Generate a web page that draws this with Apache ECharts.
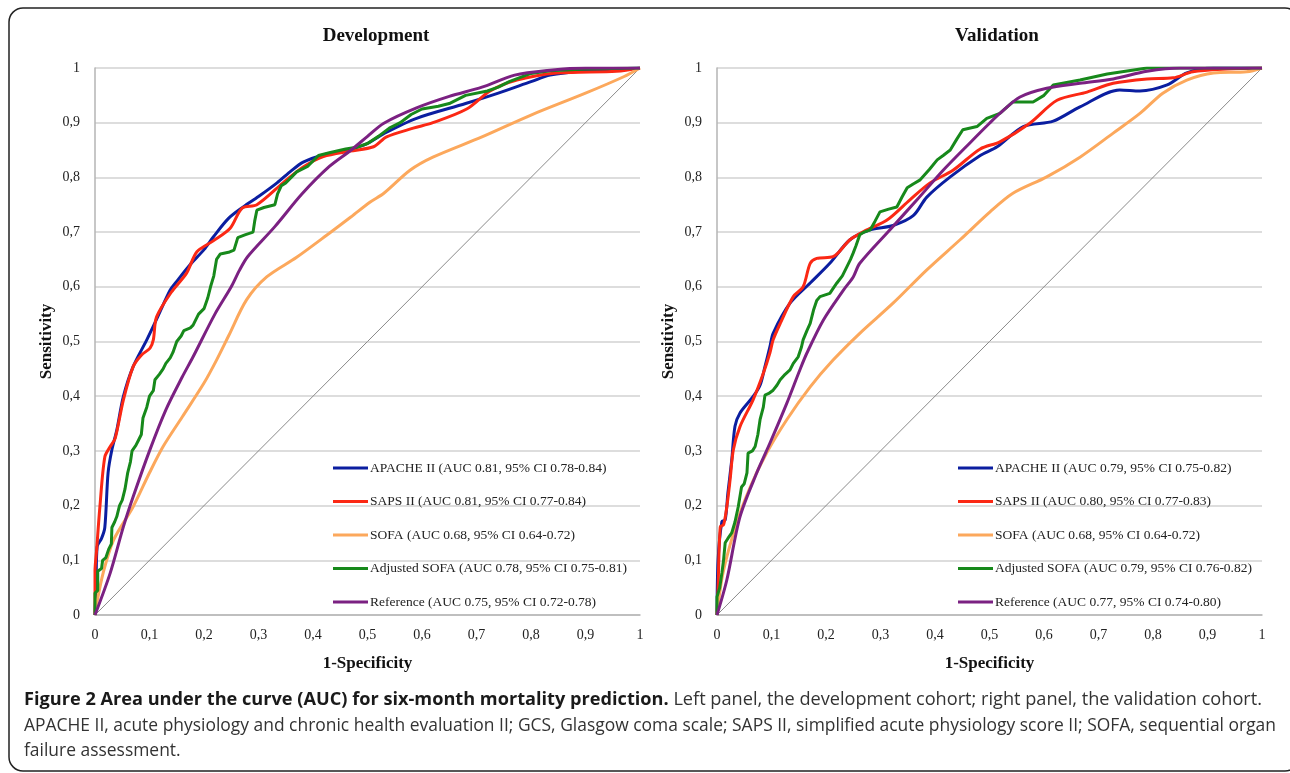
<!DOCTYPE html>
<html><head><meta charset="utf-8">
<script src="https://cdn.jsdelivr.net/npm/echarts@6/dist/echarts.min.js"></script>
<style>html,body{margin:0;padding:0;background:#fff}#c{width:1290px;height:773px}</style>
</head><body><div id="c"></div>
<script>
// ---------- data (x = 1-Specificity, y = Sensitivity) ----------
const tickLabels = ['0','0,1','0,2','0,3','0,4','0,5','0,6','0,7','0,8','0,9','1'];
const panelTitles = ['Development','Validation'];
const devNames = ['APACHE II (AUC 0.81, 95% CI 0.78-0.84)','SAPS II (AUC 0.81, 95% CI 0.77-0.84)','SOFA (AUC 0.68, 95% CI 0.64-0.72)','Adjusted SOFA (AUC 0.78, 95% CI 0.75-0.81)','Reference (AUC 0.75, 95% CI 0.72-0.78)'];
const valNames = ['APACHE II (AUC 0.79, 95% CI 0.75-0.82)','SAPS II (AUC 0.80, 95% CI 0.77-0.83)','SOFA (AUC 0.68, 95% CI 0.64-0.72)','Adjusted SOFA (AUC 0.79, 95% CI 0.76-0.82)','Reference (AUC 0.77, 95% CI 0.74-0.80)'];
const diagonal = [[0,0],[1,1]];

const devApache = [[0,0],[0.002,0.06],[0.004,0.125],[0.012,0.14],[0.018,0.16],[0.024,0.26],[0.031,0.302],[0.04,0.338],[0.052,0.399],[0.07,0.454],[0.095,0.503],[0.115,0.545],[0.138,0.594],[0.15,0.61],[0.174,0.64],[0.2,0.668],[0.217,0.691],[0.245,0.725],[0.272,0.746],[0.3,0.765],[0.334,0.79],[0.36,0.812],[0.382,0.828],[0.419,0.841],[0.47,0.852],[0.5,0.862],[0.53,0.88],[0.59,0.908],[0.68,0.935],[0.74,0.954],[0.8,0.975],[0.835,0.987],[0.9,0.995],[0.96,0.998],[1,1]];
const devSaps = [[0,0],[0,0.08],[0.003,0.119],[0.009,0.198],[0.018,0.289],[0.028,0.308],[0.037,0.323],[0.052,0.393],[0.07,0.454],[0.085,0.475],[0.101,0.488],[0.107,0.503],[0.113,0.545],[0.14,0.59],[0.168,0.625],[0.187,0.664],[0.217,0.684],[0.248,0.707],[0.27,0.744],[0.297,0.75],[0.345,0.79],[0.382,0.819],[0.419,0.838],[0.468,0.848],[0.511,0.856],[0.535,0.874],[0.584,0.89],[0.62,0.9],[0.682,0.925],[0.725,0.958],[0.774,0.978],[0.847,0.991],[0.957,0.994],[1,1]];
const devSofa = [[0,0],[0.003,0.02],[0.015,0.077],[0.034,0.137],[0.07,0.198],[0.1,0.26],[0.125,0.308],[0.16,0.362],[0.2,0.424],[0.223,0.466],[0.245,0.51],[0.278,0.576],[0.315,0.618],[0.37,0.654],[0.43,0.698],[0.47,0.728],[0.505,0.755],[0.53,0.771],[0.578,0.813],[0.62,0.837],[0.71,0.874],[0.8,0.914],[0.9,0.954],[0.97,0.984],[1,1]];
const devAdjSofa = [[0,0],[0,0.04],[0.005,0.045],[0.005,0.08],[0.012,0.085],[0.014,0.1],[0.02,0.105],[0.025,0.12],[0.03,0.13],[0.031,0.16],[0.036,0.17],[0.04,0.18],[0.045,0.2],[0.05,0.21],[0.055,0.23],[0.06,0.26],[0.065,0.28],[0.068,0.3],[0.075,0.31],[0.08,0.32],[0.085,0.33],[0.088,0.36],[0.095,0.38],[0.1,0.4],[0.107,0.41],[0.11,0.43],[0.118,0.44],[0.125,0.45],[0.13,0.46],[0.138,0.47],[0.143,0.48],[0.15,0.5],[0.158,0.51],[0.163,0.52],[0.175,0.525],[0.18,0.53],[0.19,0.55],[0.2,0.56],[0.207,0.58],[0.212,0.6],[0.218,0.62],[0.223,0.65],[0.23,0.66],[0.245,0.663],[0.255,0.667],[0.262,0.69],[0.275,0.695],[0.29,0.7],[0.293,0.72],[0.297,0.74],[0.31,0.745],[0.33,0.75],[0.335,0.77],[0.342,0.785],[0.35,0.79],[0.36,0.8],[0.37,0.81],[0.39,0.82],[0.4,0.83],[0.41,0.84],[0.43,0.845],[0.46,0.852],[0.48,0.855],[0.5,0.862],[0.52,0.875],[0.54,0.89],[0.56,0.9],[0.58,0.915],[0.6,0.925],[0.63,0.93],[0.65,0.935],[0.68,0.95],[0.72,0.958],[0.74,0.965],[0.76,0.975],[0.8,0.99],[0.835,0.995],[0.9,0.998],[1,1]];
const devReference = [[0,0],[0.028,0.077],[0.052,0.161],[0.07,0.216],[0.1,0.3],[0.13,0.375],[0.16,0.435],[0.18,0.472],[0.22,0.55],[0.25,0.6],[0.265,0.63],[0.28,0.655],[0.33,0.71],[0.38,0.77],[0.43,0.82],[0.47,0.85],[0.5,0.875],[0.53,0.899],[0.59,0.927],[0.65,0.948],[0.71,0.965],[0.77,0.987],[0.835,0.996],[0.9,1],[1,1]];

const valApache = [[0,0],[0.002,0.1],[0.009,0.171],[0.015,0.174],[0.02,0.223],[0.027,0.283],[0.033,0.345],[0.042,0.369],[0.066,0.399],[0.079,0.42],[0.088,0.454],[0.097,0.49],[0.103,0.515],[0.134,0.57],[0.171,0.607],[0.207,0.643],[0.244,0.686],[0.281,0.704],[0.323,0.712],[0.36,0.73],[0.385,0.764],[0.428,0.801],[0.483,0.84],[0.514,0.856],[0.562,0.893],[0.617,0.903],[0.666,0.929],[0.739,0.96],[0.776,0.958],[0.826,0.969],[0.862,0.991],[0.911,1],[1,1]];
const valSaps = [[0,0],[0.002,0.051],[0.006,0.161],[0.012,0.165],[0.018,0.198],[0.024,0.247],[0.03,0.302],[0.042,0.344],[0.066,0.393],[0.085,0.442],[0.097,0.479],[0.103,0.503],[0.116,0.533],[0.14,0.582],[0.158,0.6],[0.171,0.643],[0.183,0.652],[0.213,0.655],[0.244,0.686],[0.275,0.704],[0.312,0.722],[0.354,0.759],[0.391,0.79],[0.433,0.813],[0.483,0.852],[0.519,0.865],[0.574,0.899],[0.624,0.941],[0.679,0.956],[0.727,0.972],[0.789,0.98],[0.837,0.982],[0.873,0.993],[0.936,0.998],[1,1]];
const valSofa = [[0,0],[0.011,0.077],[0.036,0.168],[0.061,0.234],[0.091,0.296],[0.128,0.357],[0.171,0.417],[0.213,0.466],[0.262,0.515],[0.323,0.57],[0.385,0.631],[0.446,0.686],[0.501,0.737],[0.543,0.771],[0.605,0.801],[0.666,0.837],[0.727,0.881],[0.776,0.917],[0.818,0.954],[0.862,0.978],[0.911,0.991],[0.972,0.993],[1,1]];
const valAdjSofa = [[0,0],[0,0.033],[0.005,0.05],[0.009,0.077],[0.012,0.1],[0.015,0.132],[0.02,0.14],[0.027,0.15],[0.033,0.17],[0.039,0.198],[0.045,0.234],[0.05,0.24],[0.055,0.26],[0.057,0.296],[0.065,0.3],[0.07,0.308],[0.075,0.33],[0.079,0.357],[0.085,0.38],[0.088,0.402],[0.095,0.405],[0.103,0.411],[0.11,0.42],[0.116,0.43],[0.125,0.44],[0.134,0.448],[0.14,0.46],[0.149,0.472],[0.155,0.49],[0.158,0.503],[0.165,0.52],[0.171,0.533],[0.177,0.557],[0.183,0.575],[0.189,0.582],[0.207,0.588],[0.215,0.6],[0.22,0.607],[0.23,0.62],[0.238,0.636],[0.245,0.65],[0.25,0.662],[0.255,0.675],[0.262,0.695],[0.27,0.7],[0.281,0.704],[0.29,0.72],[0.299,0.737],[0.315,0.742],[0.33,0.746],[0.34,0.765],[0.349,0.781],[0.36,0.788],[0.372,0.795],[0.39,0.815],[0.404,0.832],[0.415,0.84],[0.428,0.85],[0.44,0.87],[0.451,0.887],[0.477,0.893],[0.495,0.908],[0.519,0.917],[0.543,0.938],[0.58,0.938],[0.6,0.95],[0.617,0.969],[0.666,0.978],[0.716,0.989],[0.789,1],[1,1]];
const valReference = [[0,0],[0.018,0.064],[0.042,0.179],[0.073,0.26],[0.097,0.314],[0.128,0.387],[0.152,0.448],[0.165,0.479],[0.195,0.539],[0.232,0.594],[0.25,0.618],[0.262,0.643],[0.317,0.704],[0.367,0.759],[0.415,0.813],[0.464,0.863],[0.5,0.899],[0.519,0.917],[0.556,0.947],[0.605,0.963],[0.666,0.972],[0.727,0.98],[0.789,0.994],[0.85,1],[1,1]];

const captionBold = 'Figure 2 Area under the curve (AUC) for six-month mortality prediction.';
const captionLine1 = ' Left panel, the development cohort; right panel, the validation cohort.';
const captionLine2 = 'APACHE II, acute physiology and chronic health evaluation II; GCS, Glasgow coma scale; SAPS II, simplified acute physiology score II; SOFA, sequential organ';
const captionLine3 = 'failure assessment.';

// ---------- styling ----------
const colors = ['#0b1ea0','#fb2814','#fca85c','#17891b','#7b2182'];
const SERIF = '"Liberation Serif","Times New Roman",serif';
const grids = [{left:95, top:68, width:545, height:547},{left:717, top:68, width:545, height:547}];

function measure(text, font){
  const ctx = document.createElement('canvas').getContext('2d');
  ctx.font = font; return ctx.measureText(text).width;
}

function axisPair(i){
  const label = {formatter: v => tickLabels[Math.round(v*10)], fontFamily: SERIF, fontSize: 14, color:'#222'};
  const nameStyle = {fontFamily: SERIF, fontWeight:'bold', fontSize:17, color:'#111'};
  return {
    x: {type:'value', gridIndex:i, min:0, max:1, interval:0.1,
        axisLine:{show:true, lineStyle:{color:'#b5b5b5', width:1.5}}, axisTick:{show:false},
        splitLine:{show:false}, axisLabel:Object.assign({margin:13}, label),
        name:'1-Specificity', nameLocation:'middle', nameGap:40, nameTextStyle:nameStyle},
    y: {type:'value', gridIndex:i, min:0, max:1, interval:0.1,
        axisLine:{show:true, lineStyle:{color:'#b5b5b5', width:1.5}}, axisTick:{show:false},
        splitLine:{show:true, lineStyle:{color:'#d2d2d2', width:1.5}}, axisLabel:Object.assign({margin:15}, label),
        name:'Sensitivity', nameLocation:'middle', nameGap:40, nameTextStyle:nameStyle}
  };
}
const a0 = axisPair(0), a1 = axisPair(1);

function line(name, data, color, idx, smooth){
  return {type:'line', name, data, xAxisIndex:idx, yAxisIndex:idx, symbol:'none', showSymbol:false,
    smooth: smooth ? 0.3 : false,
    lineStyle:{color, width:3}, itemStyle:{color}, z:3};
}
function diag(idx){
  return {type:'line', name:'diag'+idx, data:diagonal, xAxisIndex:idx, yAxisIndex:idx, symbol:'none',
    lineStyle:{color:'#8a8a8a', width:1}, silent:true, z:2};
}
const devData = [devApache, devSaps, devSofa, devAdjSofa, devReference];
const valData = [valApache, valSaps, valSofa, valAdjSofa, valReference];
const series = [diag(0), diag(1)];
devData.forEach((d,k)=>series.push(line(devNames[k], d, colors[k], 0, k!==3)));
valData.forEach((d,k)=>series.push(line(valNames[k], d, colors[k], 1, k!==3)));

function legend(names, left){
  return {data:names, orient:'vertical', left, top:456, icon:'rect', itemWidth:35, itemHeight:3, itemGap:19.5,
    selectedMode:false, textStyle:{fontFamily:SERIF, fontSize:13.5, color:'#222', padding:[0,0,0,-3]}};
}

// caption scaling to reproduce the condensed typeface width
const capSize = 17.5;
const fB = 'bold '+capSize+'px "Open Sans"', fN = capSize+'px "Open Sans"';
const w1 = measure(captionBold, fB) + measure(captionLine1, fN);
const w2 = measure(captionLine2, fN);
const sx1 = 1238 / w1, sx2 = 1252 / w2;

const chart = echarts.init(document.getElementById('c'), null, {renderer:'canvas'});
chart.setOption({
  animation:false,
  backgroundColor:'#fff',
  title: panelTitles.map((t,i)=>({text:t, left: i===0 ? 371 : 992, top:22, textAlign:'center',
     textStyle:{fontFamily:SERIF, fontWeight:'bold', fontSize:19, color:'#111'}})),
  grid: grids,
  xAxis:[a0.x, a1.x],
  yAxis:[a0.y, a1.y],
  legend:[legend(devNames, 328), legend(valNames, 953)],
  series,
  graphic:[
    {type:'rect', shape:{x:9, y:8, width:1290, height:763, r:14}, style:{fill:'none', stroke:'#222', lineWidth:1.5}, silent:true},
    {type:'text', x:24, y:700, scaleX:sx1, style:{text:'{b|'+captionBold+'}{n|'+captionLine1+'}', verticalAlign:'middle',
       rich:{b:{font:fB, fill:'#1a1a1a'}, n:{font:fN, fill:'#333'}}}},
    {type:'text', x:24, y:726, scaleX:sx2, style:{text:captionLine2, font:fN, fill:'#333', verticalAlign:'middle'}},
    {type:'text', x:24, y:751, scaleX:sx2, style:{text:captionLine3, font:fN, fill:'#333', verticalAlign:'middle'}}
  ]
});
</script></body></html>
